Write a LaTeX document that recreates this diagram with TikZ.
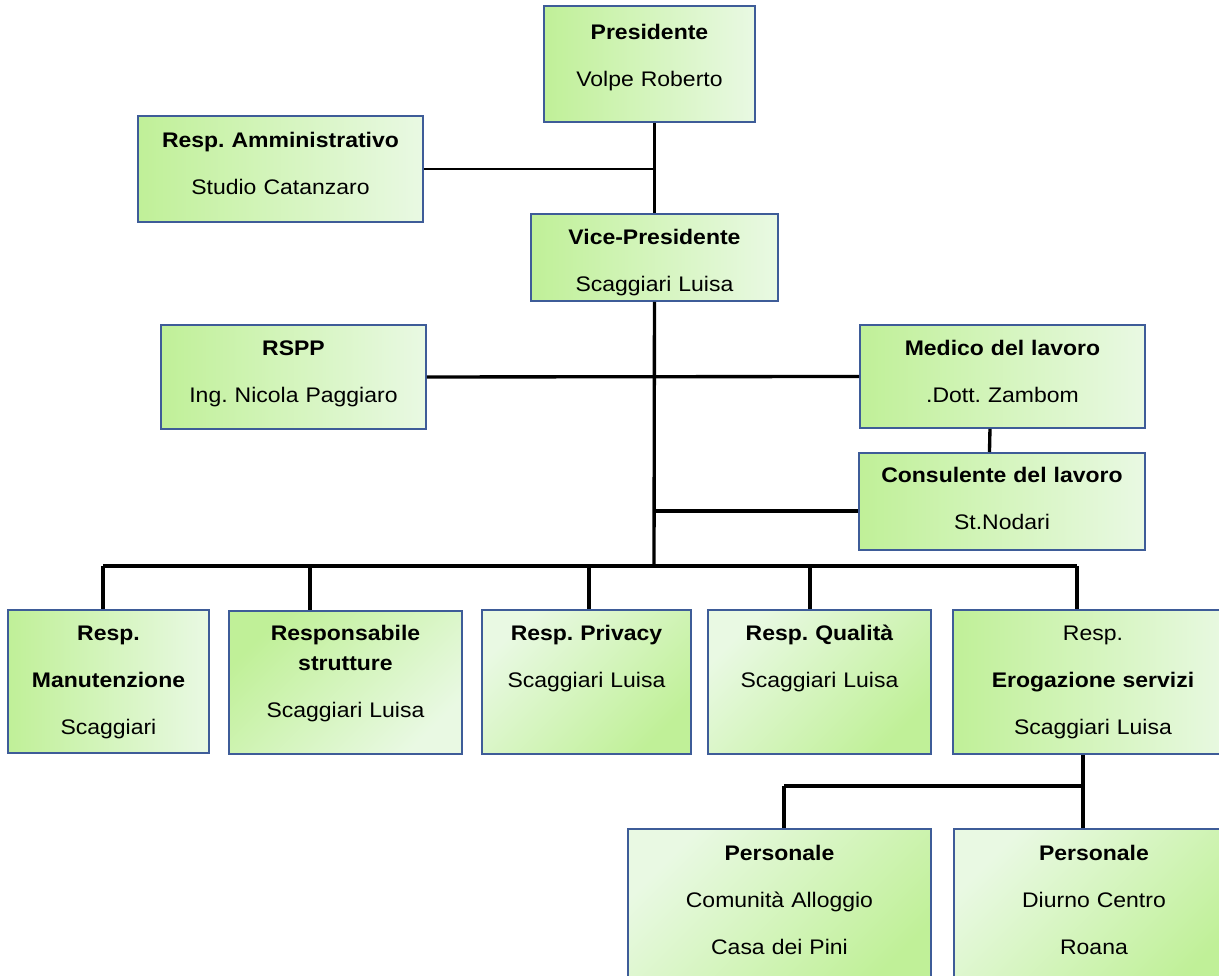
\documentclass[tikz,border=0pt]{standalone}
\usepackage{fontspec}
\setmainfont{Liberation Sans}[FakeStretch=1.09]
\usetikzlibrary{positioning}
\frenchspacing
\newdimen\px \px=0.02cm
\definecolor{boxgreen}{RGB}{192,240,152}
\definecolor{boxlight}{RGB}{233,249,227}
\definecolor{boxblue}{RGB}{62,92,152}
\tikzset{org box/.style={draw=boxblue,line width=1.1pt,inner sep=0pt,align=center,
            anchor=north west,font=\fontsize{12}{26.6}\selectfont},
         boxdim/.style n args={3}{text width=#1\px,text height=#2\px,text depth=#3\px},
         shade lr/.style={left color=boxgreen,right color=boxlight},
         light corner/.style={top color=boxlight,bottom color=boxgreen,shading angle=45},
         green corner/.style={top color=boxgreen,bottom color=boxlight,shading angle=45},
         link/.style={line width=1.9pt},
            }
\begin{document}
\begin{tikzpicture}[x=0.02cm,y=-0.02cm]
    \fill[white] (0,0) rectangle (1219,975);
    \useasboundingbox (0,0) rectangle (1219,975);

    \node[org box,shade lr,boxdim={211}{34}{82}] (pres) at (543,5)
        {\textbf{Presidente}\\Volpe Roberto};
    \node[org box,shade lr,boxdim={285}{32}{74}] (admin) at (137,115)
        {\textbf{Resp. Amministrativo}\\Studio Catanzaro};
    \node[org box,shade lr,boxdim={247}{31}{56}] (vice) at (530,213)
        {\textbf{Vice-Presidente}\\Scaggiari Luisa};
    \node[org box,shade lr,boxdim={265}{31}{73}] (rspp) at (160,324)
        {\textbf{RSPP}\\Ing. Nicola Paggiaro};
    \node[org box,shade lr,boxdim={285}{31}{72}] (medico) at (859,324)
        {\textbf{Medico del lavoro}\\.Dott. Zambom};
    \node[org box,shade lr,boxdim={286}{30}{67}] (consul) at (858,452)
        {\textbf{Consulente del lavoro}\\St.Nodari};

    \node[org box,shade lr,boxdim={201}{31}{112}] (manut) at (7,609)
        {\textbf{Resp.}\\\textbf{Manutenzione}\\Scaggiari};
    \node[org box,green corner,boxdim={233}{30}{113}] (strutt) at (228,610)
        {\textbf{Responsabile}\\[-9.6pt]\textbf{strutture}\\Scaggiari Luisa};
    \node[org box,light corner,boxdim={209}{31}{113}] (privacy) at (481,609)
        {\textbf{Resp. Privacy}\\Scaggiari Luisa};
    \node[org box,light corner,boxdim={223}{31}{113}] (qual) at (707,609)
        {\textbf{Resp. Qualità}\\Scaggiari Luisa};
    \node[org box,shade lr,boxdim={280}{31}{113}] (erog) at (952,609)
        {Resp.\\\textbf{Erogazione servizi}\\Scaggiari Luisa};

    \node[org box,light corner,boxdim={303}{32}{130}] (pers1) at (627,828)
        {\textbf{Personale}\\Comunità Alloggio\\Casa dei Pini};
    \node[org box,light corner,boxdim={280}{32}{130}] (pers2) at (953,828)
        {\textbf{Personale}\\Diurno Centro\\Roana};

    % trunk and bus
    \coordinate (bus) at (654,566);
    \coordinate (sub) at (1083,786);
    \coordinate (subl) at (784,786);
    \draw[link] (vice.north |- pres.south) -- (vice.north);
    \draw[link] (vice.south) -- (bus);
    \draw[line width=1.5pt] (admin.east) -- (admin.east -| vice.north);
    \draw[link] (rspp.east) -- (medico.west);
    \draw[link] ([xshift=-0.25cm]medico.south) -- ([xshift=-0.25cm]consul.north);
    \draw[link] ([yshift=-0.19cm]consul.west) -- ([yshift=-0.19cm]consul.west -| bus);
    \draw[link] (103,566) -- (1077,566);
    \foreach \xd/\target in {103/manut,310/strutt,589/privacy,810/qual,1077/erog}
        \draw[link] (\xd,566) -- (\xd,566 |- \target.north);

    % sub level
    \draw[link] (sub |- erog.south) -- (sub);
    \draw[link] (subl) -- (sub);
    \draw[link] (subl) -- (subl |- pers1.north);
    \draw[link] (sub) -- (sub |- pers2.north);
    %%
\end{tikzpicture}
\end{document}
